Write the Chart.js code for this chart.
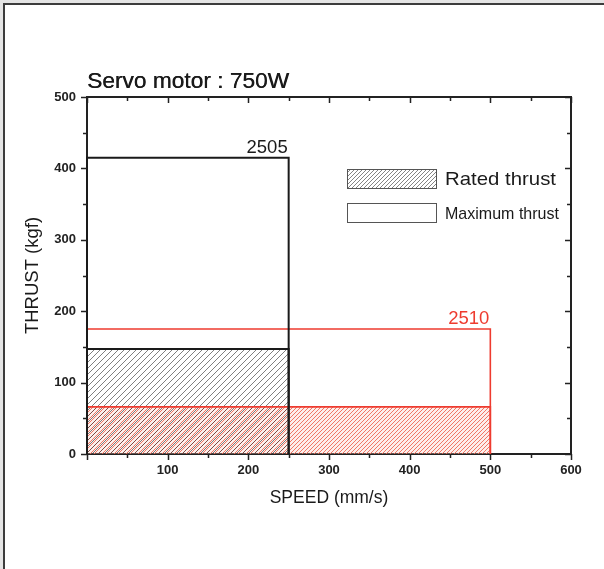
<!DOCTYPE html>
<html>
<head>
<meta charset="utf-8">
<title>Servo motor : 750W</title>
<script src="https://cdn.jsdelivr.net/npm/chart.js@4.4.1/dist/chart.umd.min.js"></script>
<style>
  html, body { margin: 0; padding: 0; background: #e4e4e4; }
  #frame {
    position: absolute; left: 3px; top: 3px; width: 601px; height: 566px;
    background: #fff; border-top: 2px solid #3c3c3c; border-left: 2px solid #3c3c3c;
    box-sizing: border-box;
  }
  #wrap { position: absolute; left: 0; top: 0; width: 604px; height: 569px; }
</style>
</head>
<body>
<div id="frame"></div>
<div id="wrap"><canvas id="c" width="604" height="569"></canvas></div>
<script>
// Ball-screw models driven by a 750 W servo motor
const models = ['2505', '2510'];
const maxSpeed = [250, 500];      // mm/s
const ratedThrust = [147, 66];    // kgf
const maxThrust = [415, 175];     // kgf
const speedTicks = [100, 200, 300, 400, 500, 600];
const thrustTicks = [0, 100, 200, 300, 400, 500];
const legendLabels = ['Rated thrust', 'Maximum thrust'];

const modelColor = ['#1a1a1a', '#ee3b2f'];
const FONT = "'Liberation Sans', Arial, sans-serif";

function hatch(color, gap, width, bg) {
  const c = document.createElement('canvas');
  c.width = gap; c.height = gap;
  const g = c.getContext('2d');
  if (bg) { g.fillStyle = bg; g.fillRect(0, 0, gap, gap); }
  g.strokeStyle = color; g.lineWidth = width;
  g.beginPath();
  g.moveTo(0, gap); g.lineTo(gap, 0);
  g.moveTo(-gap / 2, gap / 2); g.lineTo(gap / 2, -gap / 2);
  g.moveTo(gap / 2, gap * 1.5); g.lineTo(gap * 1.5, gap / 2);
  g.stroke();
  return g.createPattern(c, 'repeat');
}

const hatchFill = [
  hatch('rgba(50,50,50,0.62)', 6, 1),
  hatch('rgba(238,105,85,0.9)', 4, 1, 'rgba(250,200,190,0.3)')
];
const legendHatch = hatch('rgba(110,110,110,0.85)', 4, 1);

function rect(speed, thrust) {
  return [{ x: 0, y: 0 }, { x: 0, y: thrust }, { x: speed, y: thrust }, { x: speed, y: 0 }];
}

const datasets = [];
models.forEach((m, i) => {
  datasets.push({
    label: m + ' rated', data: rect(maxSpeed[i], ratedThrust[i]),
    borderColor: modelColor[i], borderWidth: i === 0 ? 2 : 1.6,
    backgroundColor: hatchFill[i], fill: 'origin'
  });
  datasets.push({
    label: m + ' max', data: rect(maxSpeed[i], maxThrust[i]),
    borderColor: modelColor[i], borderWidth: i === 0 ? 2 : 1.6,
    fill: false
  });
});
datasets.forEach(d => Object.assign(d, {
  showLine: true, pointRadius: 0, tension: 0, clip: false, xAxisID: 'x', yAxisID: 'y'
}));

// Short minor ticks at every 50, longer major ticks at every 100
const tickMarks = {
  id: 'tickMarks',
  afterDraw(chart) {
    const ctx = chart.ctx, a = chart.chartArea;
    const xs = chart.scales.x, ys = chart.scales.y;
    ctx.save();
    ctx.strokeStyle = '#222'; ctx.lineWidth = 1.5;
    ctx.beginPath();
    for (let v = 0; v <= 600; v += 50) {
      const px = Math.round(xs.getPixelForValue(v)) + 0.5;
      const len = v % 100 === 0 ? 6 : 4;
      ctx.moveTo(px, a.bottom); ctx.lineTo(px, a.bottom + len);
      ctx.moveTo(px, a.top); ctx.lineTo(px, a.top + len);
    }
    for (let v = 0; v <= 500; v += 50) {
      const py = Math.round(ys.getPixelForValue(v)) + 0.5;
      const len = v % 100 === 0 ? 6 : 4;
      ctx.moveTo(a.left, py); ctx.lineTo(a.left - len, py);
      ctx.moveTo(a.right, py); ctx.lineTo(a.right - len, py);
    }
    ctx.stroke();
    ctx.restore();
  }
};

// Text drawn at a fixed width by stretching horizontally
function fitText(ctx, text, x, y, width) {
  const w = ctx.measureText(text).width;
  ctx.save();
  ctx.translate(x, y);
  ctx.scale(width / w, 1);
  ctx.fillText(text, 0, 0);
  ctx.restore();
}

const annotations = {
  id: 'annotations',
  afterDraw(chart) {
    const ctx = chart.ctx, a = chart.chartArea;
    const xs = chart.scales.x, ys = chart.scales.y;
    ctx.save();
    // title
    ctx.fillStyle = '#1a1a1a';
    ctx.font = '22px ' + FONT;
    ctx.textAlign = 'left'; ctx.textBaseline = 'alphabetic';
    fitText(ctx, 'Servo motor : 750W', a.left, 88, 202);
    fitText(ctx, 'Servo motor : 750W', a.left + 0.4, 88, 202);
    // axis titles
    ctx.textAlign = 'center'; ctx.textBaseline = 'middle';
    ctx.font = '17.5px ' + FONT;
    ctx.fillText('SPEED (mm/s)', (a.left + a.right) / 2, 498);
    ctx.save();
    ctx.translate(33, (a.top + a.bottom) / 2);
    ctx.rotate(-Math.PI / 2);
    ctx.font = '18.5px ' + FONT;
    ctx.fillText('THRUST (kgf)', 0, 0);
    ctx.restore();
    // model labels at the corner of each maximum-thrust box
    ctx.font = '18.5px ' + FONT;
    ctx.textAlign = 'right'; ctx.textBaseline = 'alphabetic';
    models.forEach((m, i) => {
      ctx.fillStyle = modelColor[i];
      ctx.fillText(m, xs.getPixelForValue(maxSpeed[i]) - 1, ys.getPixelForValue(maxThrust[i]) - 5);
    });
    // legend
    const lx = 347.5, bw = 89, bh = 19;
    const rows = [169.5, 203.5];
    ctx.textAlign = 'left';
    rows.forEach((ly, i) => {
      ctx.fillStyle = i === 0 ? legendHatch : '#fff';
      ctx.fillRect(lx, ly, bw, bh);
      ctx.strokeStyle = '#555'; ctx.lineWidth = 1;
      ctx.strokeRect(lx, ly, bw, bh);
      ctx.fillStyle = '#1a1a1a';
      ctx.textBaseline = 'middle';
      ctx.font = (i === 0 ? '19px ' : '17px ') + FONT;
      fitText(ctx, legendLabels[i], 445, ly + bh / 2 + 1, i === 0 ? 111 : 114);
    });
    ctx.restore();
  }
};

const tickFont = { family: FONT, size: 13, weight: 'bold' };
const axisBorder = { display: true, color: '#222', width: 2 };

new Chart(document.getElementById('c'), {
  type: 'scatter',
  data: { datasets },
  options: {
    responsive: false,
    animation: false,
    events: [],
    layout: { padding: 0 },
    plugins: {
      legend: { display: false },
      tooltip: { enabled: false },
      title: { display: false },
      filler: { drawTime: 'beforeDatasetsDraw' }
    },
    scales: {
      x: {
        type: 'linear', position: 'bottom', min: 0, max: 600,
        afterBuildTicks: s => { s.ticks = speedTicks.map(v => ({ value: v })); },
        ticks: { font: tickFont, color: '#222', padding: 9, maxRotation: 0 },
        grid: { display: false, drawTicks: false },
        border: axisBorder,
        afterFit: s => { s.height = 115; }
      },
      x2: {
        type: 'linear', position: 'top', min: 0, max: 600,
        ticks: { display: false },
        grid: { display: false, drawTicks: false },
        border: axisBorder,
        afterFit: s => { s.height = 97; }
      },
      y: {
        type: 'linear', position: 'left', min: 0, max: 500,
        afterBuildTicks: s => { s.ticks = thrustTicks.map(v => ({ value: v })); },
        ticks: { font: tickFont, color: '#222', padding: 11 },
        grid: { display: false, drawTicks: false },
        border: axisBorder,
        afterFit: s => { s.width = 87; }
      },
      y2: {
        type: 'linear', position: 'right', min: 0, max: 500,
        ticks: { display: false },
        grid: { display: false, drawTicks: false },
        border: axisBorder,
        afterFit: s => { s.width = 33; }
      }
    }
  },
  plugins: [tickMarks, annotations]
});
</script>
</body>
</html>
